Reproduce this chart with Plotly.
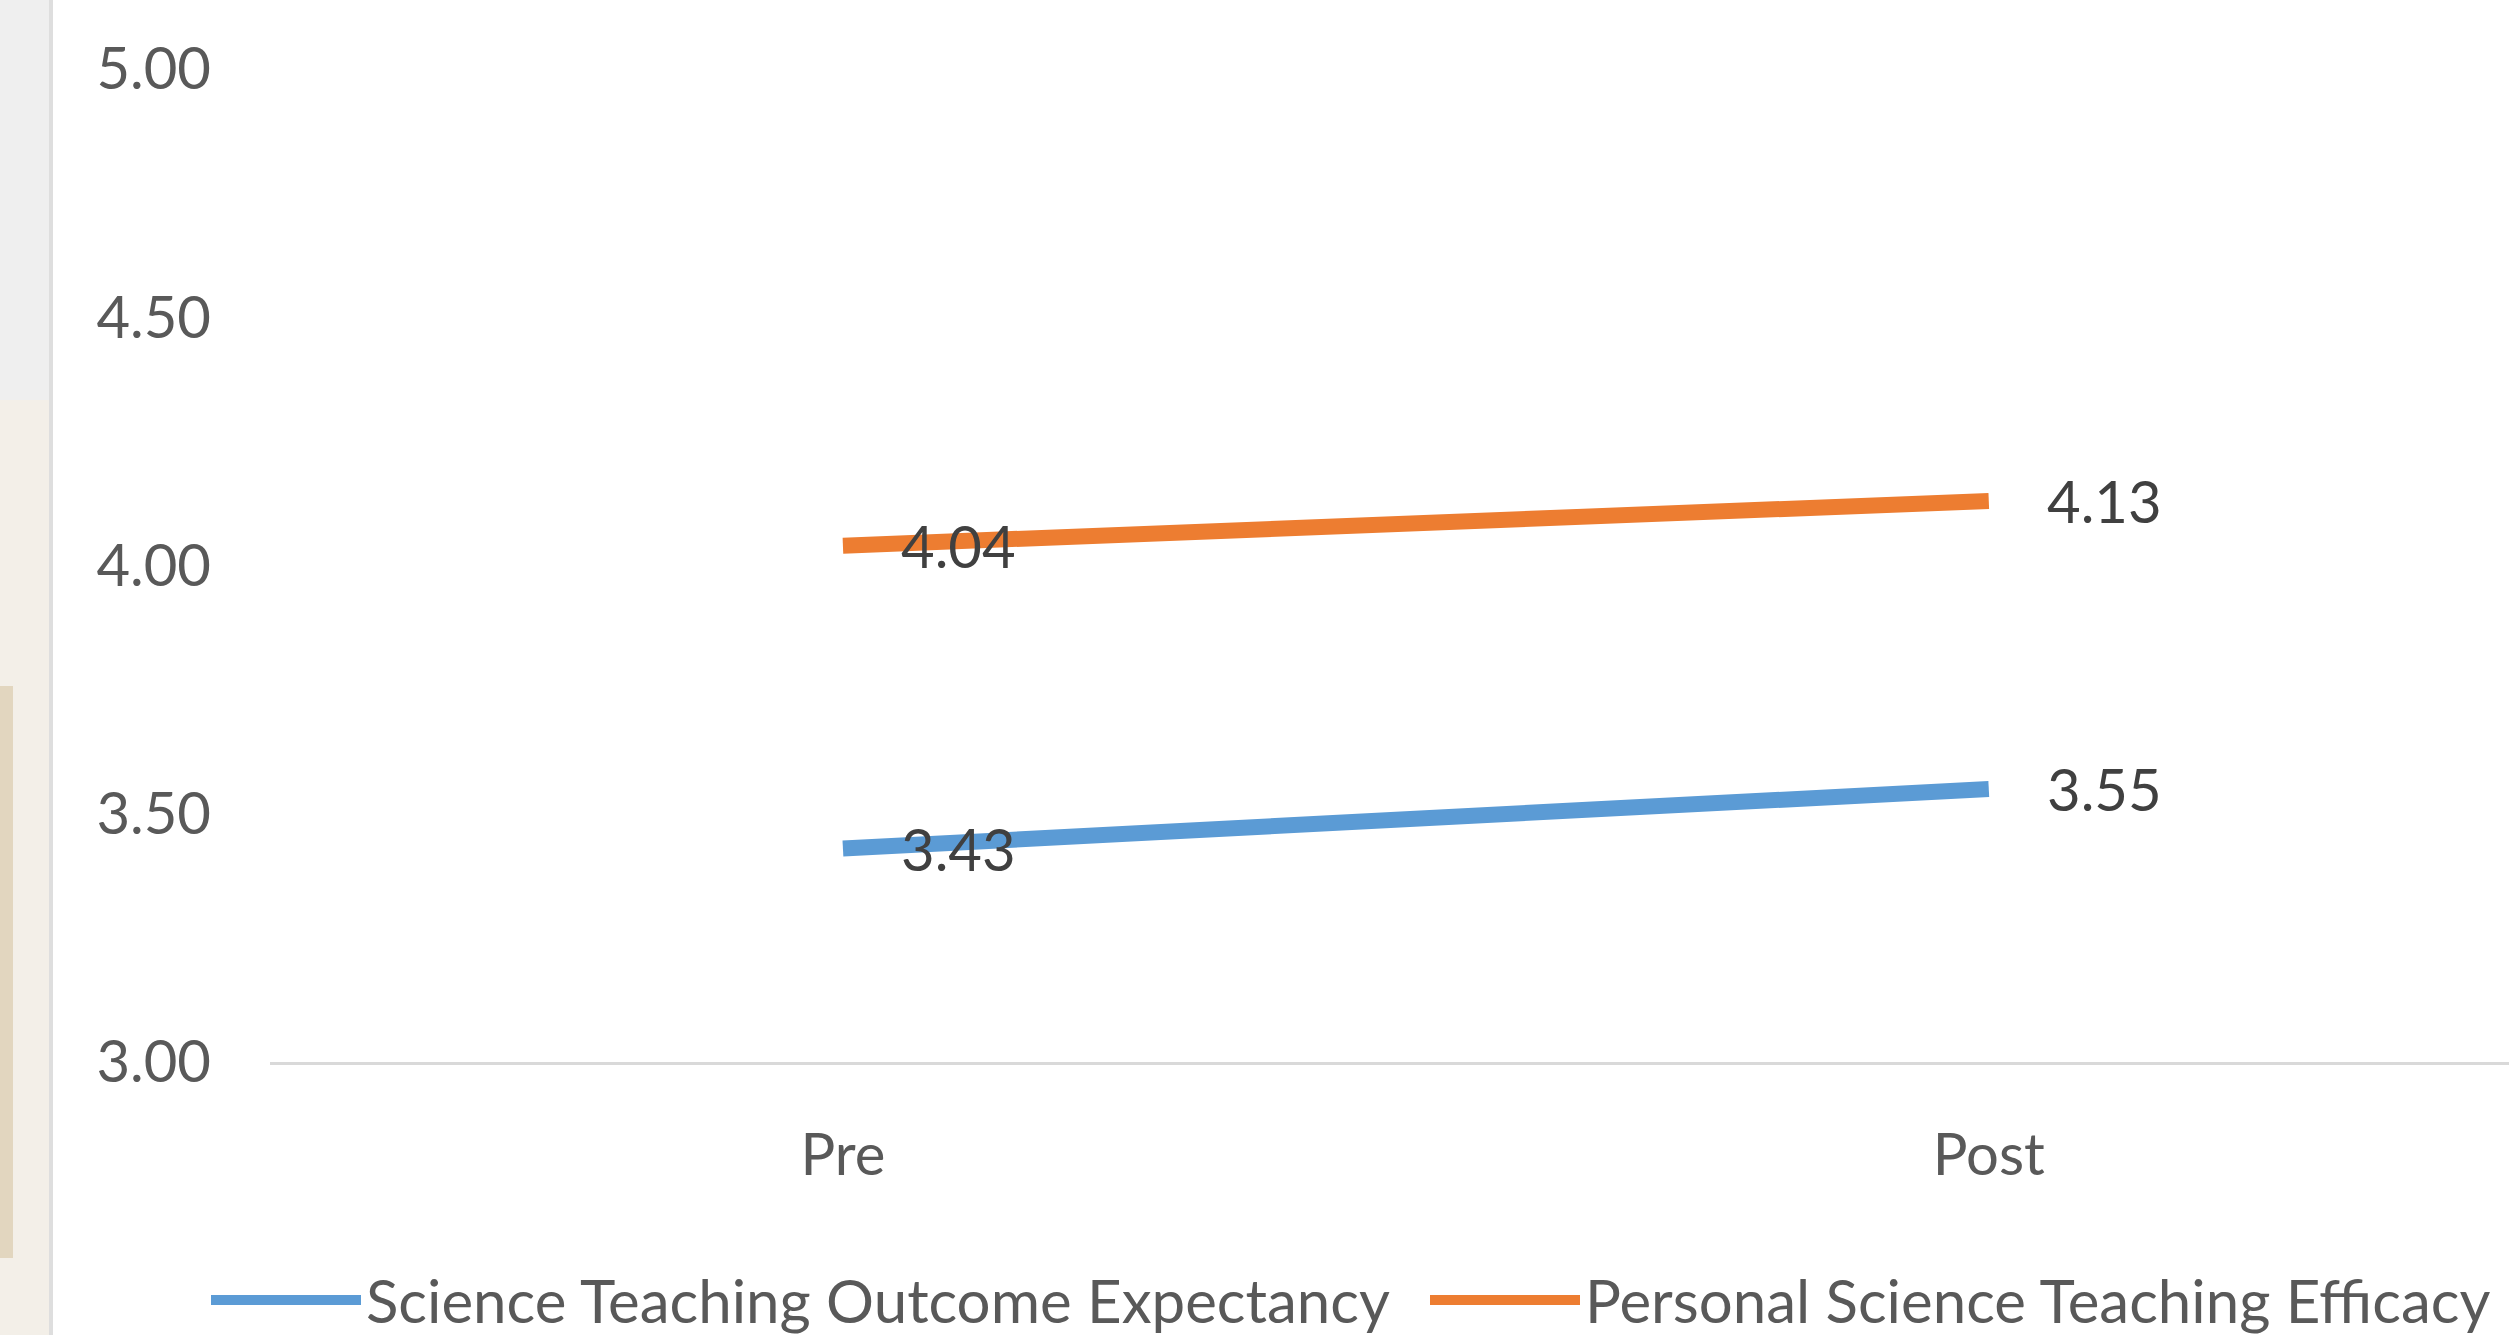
import plotly.graph_objects as go

categories = ["Pre", "Post"]
outcome_expectancy = [3.43, 3.55]
teaching_efficacy = [4.04, 4.13]
series_names = ["Science Teaching Outcome Expectancy", "Personal Science Teaching Efficacy"]
y_ticks = [3.0, 3.5, 4.0, 4.5, 5.0]

W, H = 2509, 1335
ML, MR, MT, MB = 270, 0, 69, 273
PW, PH = W - ML - MR, H - MT - MB

def px(x):
    return (x - ML) / PW

def py(y):
    return (H - MB - y) / PH

FONT = "Lato"
fig = go.Figure()
colors = ["#5B9BD5", "#ED7D31"]
for name, vals, col in zip(series_names, [outcome_expectancy, teaching_efficacy], colors):
    fig.add_trace(go.Scatter(x=categories, y=vals, mode="lines", name=name,
                             line=dict(color=col, width=16), hoverinfo="skip"))
    for c, v in zip(categories, vals):
        fig.add_annotation(x=c, y=v, text=f"{v:.2f}", showarrow=False, xanchor="left",
                           yanchor="middle", xshift=56, yshift=0,
                           font=dict(family=FONT, size=58, color="#404040"))

shapes = [
    dict(type="rect", xref="paper", yref="paper", x0=px(0), x1=px(49), y0=py(0), y1=py(400),
         fillcolor="#EFEFEF", line_width=0, layer="below"),
    dict(type="rect", xref="paper", yref="paper", x0=px(0), x1=px(49), y0=py(400), y1=py(H),
         fillcolor="#F3EFE8", line_width=0, layer="below"),
    dict(type="rect", xref="paper", yref="paper", x0=px(0), x1=px(13), y0=py(686), y1=py(1258),
         fillcolor="#E2D6BF", line_width=0, layer="below"),
    dict(type="rect", xref="paper", yref="paper", x0=px(49), x1=px(53), y0=py(0), y1=py(H),
         fillcolor="#DEDEDE", line_width=0, layer="below"),
]

fig.update_layout(
    width=W, height=H,
    margin=dict(l=ML, r=MR, t=MT, b=MB, autoexpand=False),
    paper_bgcolor="white", plot_bgcolor="white",
    shapes=shapes,
    font=dict(family=FONT, size=58, color="#595959"),
    showlegend=True,
    legend=dict(orientation="h", x=px(211 - 5), xanchor="left", y=py(1300), yanchor="middle",
                itemwidth=150, entrywidth=1054, entrywidthmode="pixels",
                font=dict(family=FONT, size=60, color="#595959"), bgcolor="rgba(0,0,0,0)"),
    xaxis=dict(type="category", range=[-0.5, 1.454], showgrid=False, zeroline=False,
               showline=True, linecolor="#D9D9D9", linewidth=3, ticks="",
               ticklabelstandoff=40, tickfont=dict(family=FONT, size=58, color="#595959")),
    yaxis=dict(range=[3, 5], tickvals=y_ticks, tickformat=".2f", showgrid=False,
               zeroline=False, showline=False, ticks="", ticklabelstandoff=58,
               tickfont=dict(family=FONT, size=58, color="#595959")),
)

fig.write_html("out.html", config={"displayModeBar": False},
               post_script="document.body.style.margin='0';document.body.style.overflow='hidden';")
